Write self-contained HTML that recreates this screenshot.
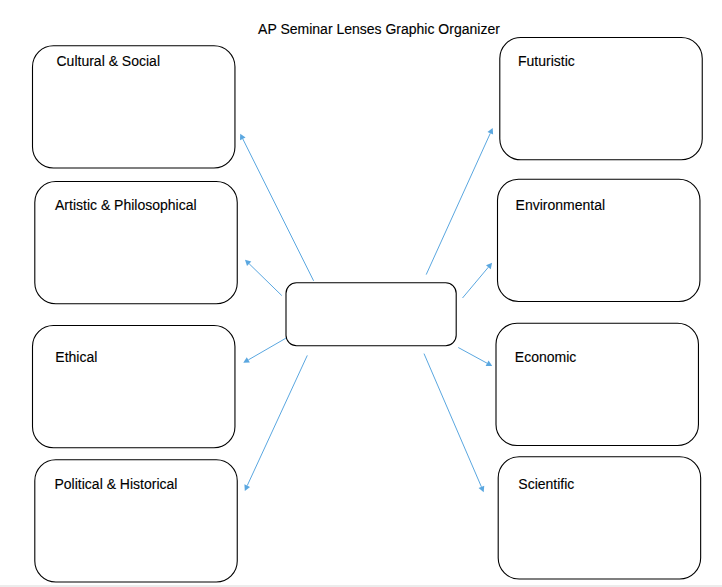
<!DOCTYPE html><html><head><meta charset="utf-8"><style>html,body{margin:0;padding:0;background:#fff;width:722px;height:587px;overflow:hidden}svg{display:block}text{font-family:"Liberation Sans",sans-serif;font-size:14px;fill:#000;stroke:#000;stroke-width:0.12px}</style></head><body>
<svg width="722" height="587" viewBox="0 0 722 587">
<rect x="0" y="585" width="722" height="2" fill="#ececec"/>
<rect x="32.5" y="45.7" width="202.45" height="122.30" rx="21" ry="21" fill="none" stroke="#000" stroke-width="1.1"/>
<rect x="34.8" y="181.5" width="202.45" height="122.30" rx="21" ry="21" fill="none" stroke="#000" stroke-width="1.1"/>
<rect x="32.5" y="325.5" width="202.45" height="122.30" rx="21" ry="21" fill="none" stroke="#000" stroke-width="1.1"/>
<rect x="34.8" y="459.7" width="202.45" height="122.30" rx="21" ry="21" fill="none" stroke="#000" stroke-width="1.1"/>
<rect x="499.8" y="37.5" width="202.45" height="122.30" rx="21" ry="21" fill="none" stroke="#000" stroke-width="1.1"/>
<rect x="497.5" y="179.2" width="202.45" height="122.30" rx="21" ry="21" fill="none" stroke="#000" stroke-width="1.1"/>
<rect x="496.0" y="323.2" width="202.45" height="122.30" rx="21" ry="21" fill="none" stroke="#000" stroke-width="1.1"/>
<rect x="498.2" y="456.7" width="202.45" height="122.30" rx="21" ry="21" fill="none" stroke="#000" stroke-width="1.1"/>
<rect x="286.0" y="282.8" width="170.20" height="63.00" rx="10.5" ry="10.5" fill="none" stroke="#000" stroke-width="1.1"/>
<line x1="313.6" y1="280.8" x2="242.79" y2="138.89" stroke="#5aa7e0" stroke-width="1.0"/>
<polygon points="240.20,133.70 245.56,137.51 240.02,140.27" fill="#5aa7e0"/>
<line x1="281.8" y1="295.6" x2="249.15" y2="263.75" stroke="#5aa7e0" stroke-width="1.0"/>
<polygon points="245.00,259.70 251.32,261.53 246.99,265.97" fill="#5aa7e0"/>
<line x1="285.9" y1="338.2" x2="248.32" y2="359.90" stroke="#5aa7e0" stroke-width="1.0"/>
<polygon points="243.30,362.80 246.77,357.22 249.87,362.58" fill="#5aa7e0"/>
<line x1="307.3" y1="355.4" x2="247.23" y2="485.63" stroke="#5aa7e0" stroke-width="1.0"/>
<polygon points="244.80,490.90 244.41,484.33 250.04,486.93" fill="#5aa7e0"/>
<line x1="426.2" y1="274.6" x2="490.30" y2="133.28" stroke="#5aa7e0" stroke-width="1.0"/>
<polygon points="492.70,128.00 493.13,134.56 487.48,132.00" fill="#5aa7e0"/>
<line x1="462.5" y1="298.0" x2="488.37" y2="267.19" stroke="#5aa7e0" stroke-width="1.0"/>
<polygon points="492.10,262.75 490.74,269.19 486.00,265.20" fill="#5aa7e0"/>
<line x1="458.25" y1="347.5" x2="487.11" y2="363.22" stroke="#5aa7e0" stroke-width="1.0"/>
<polygon points="492.20,366.00 485.62,365.95 488.59,360.50" fill="#5aa7e0"/>
<line x1="424.0" y1="353.6" x2="481.41" y2="486.87" stroke="#5aa7e0" stroke-width="1.0"/>
<polygon points="483.70,492.20 478.56,488.10 484.25,485.65" fill="#5aa7e0"/>
<text x="258.1" y="33.7">AP Seminar Lenses Graphic Organizer</text>
<text x="56.5" y="66">Cultural &amp; Social</text>
<text x="55.0" y="210">Artistic &amp; Philosophical</text>
<text x="55.3" y="362">Ethical</text>
<text x="54.5" y="489">Political &amp; Historical</text>
<text x="518.0" y="66.2">Futuristic</text>
<text x="515.6" y="210">Environmental</text>
<text x="514.8" y="362">Economic</text>
<text x="518.3" y="489">Scientific</text>
</svg></body></html>
